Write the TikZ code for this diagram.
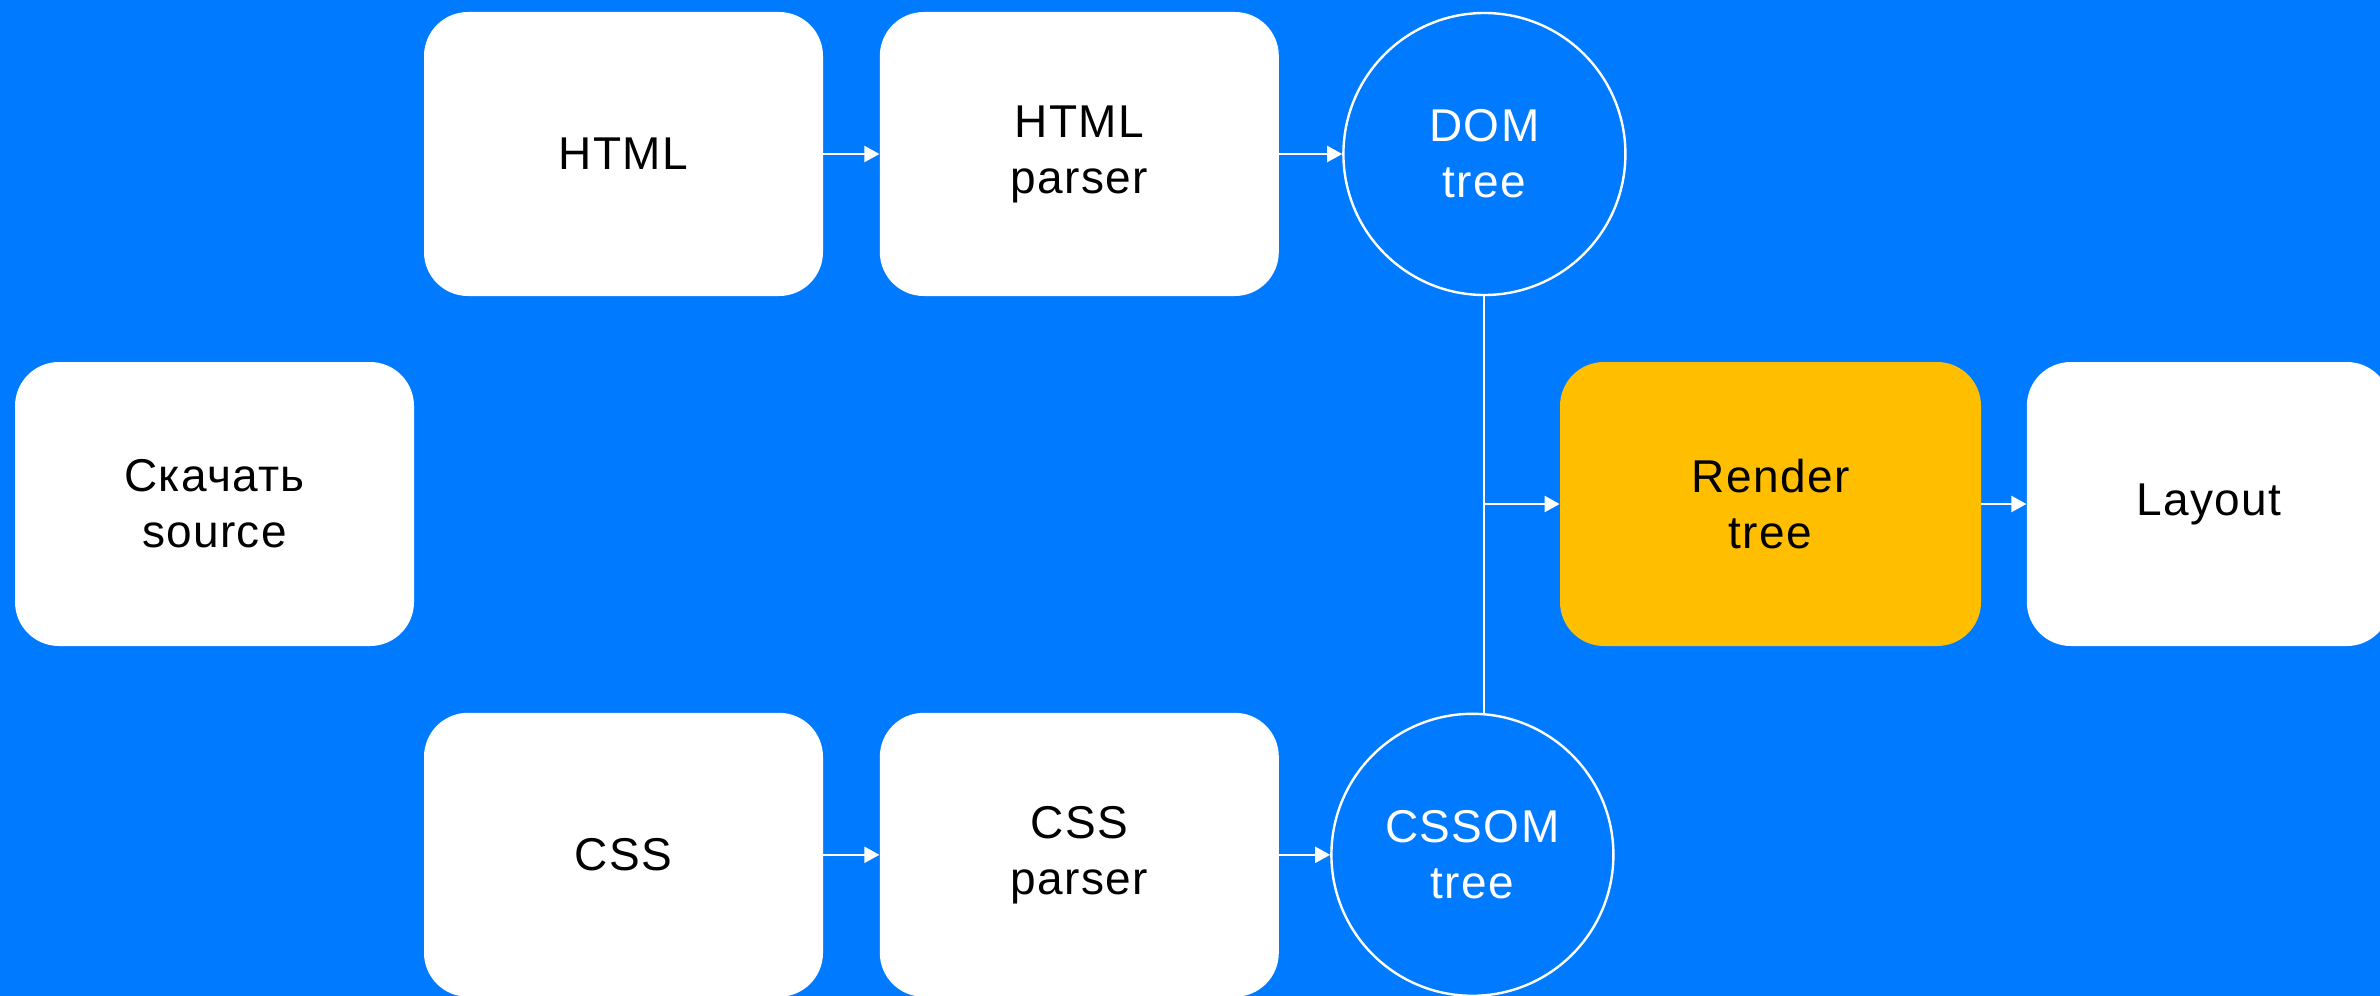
\documentclass[tikz,border=0pt]{standalone}
\usepackage{fontspec}
\setmainfont{Liberation Sans}[LetterSpace=3]
\usetikzlibrary{arrows.meta,positioning}
\definecolor{pageblue}{RGB}{0,123,255}
\definecolor{renderyellow}{RGB}{255,191,0}
\tikzset{
  procbox/.style={fill=white, rounded corners=22pt, align=center, minimum width=199.5pt, minimum height=142pt, inner sep=0pt, font=\fontsize{23}{28}\selectfont},
  renderbox/.style={procbox, fill=renderyellow, minimum width=210.5pt},
  treecircle/.style={draw=white, circle, line width=1.2pt, minimum size=141pt, inner sep=0pt, align=center, text=white, font=\fontsize{23}{28}\selectfont},
  arrow/.style={-{Triangle[length=7.5pt,width=8pt]}, draw=white, fill=white, line width=1pt},
  link/.style={draw=white, line width=1pt}
}

\begin{document}
\begin{tikzpicture}
  \useasboundingbox (0,0) rectangle (1190pt,-497.5pt);
  \fill[pageblue] (-2pt,2pt) rectangle (1192pt,-500pt);

  \node[procbox] (source) at (107.25pt,-252pt) {Скачать\\source};

  \node[procbox] (html) at (311.75pt,-77pt) {HTML};
  \node[procbox, right=28pt of html] (htmlparser) {HTML\\parser};
  \node[treecircle, right=31.5pt of htmlparser] (dom) {DOM\\tree};

  \node[procbox, below=208pt of html] (css) {CSS};
  \node[procbox, right=28pt of css] (cssparser) {CSS\\parser};
  \node[treecircle, right=25.5pt of cssparser] (cssom) {CSSOM\\tree};

  \node[renderbox] (render) at (885.25pt,-252pt) {Render\\tree};
  \node[procbox, right=22.5pt of render, minimum width=182pt] (layout) {Layout};

  \foreach \a/\b in {html/htmlparser,htmlparser/dom,css/cssparser,cssparser/cssom,render/layout}
    \draw[arrow] (\a) -- (\b);

  \coordinate (join) at (dom.south |- render.west);
  \draw[link] (dom.south) -- (dom.south |- cssom.north);
  \draw[arrow] (join) -- (render.west);
\end{tikzpicture}
\end{document}
